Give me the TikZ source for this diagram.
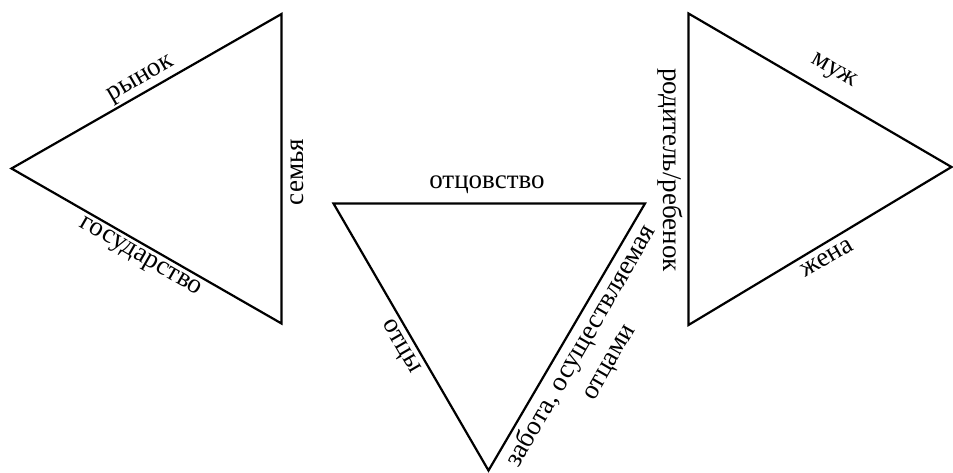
\documentclass[tikz,border=0pt]{standalone}
\usepackage{fontspec}
\newfontfamily\tnr{LiberationSerif-Regular.ttf}
\begin{document}
\begin{tikzpicture}[x=1pt,y=-1pt,
  edge/.style={line width=2.2pt,line join=miter},
  lbl/.style={inner sep=0pt,font=\tnr\fontsize{27}{32}\selectfont,align=center}]
\useasboundingbox (0,0) rectangle (953,473);
% left triangle
\coordinate (a1) at (281.5,14);
\coordinate (a2) at (11.5,168.5);
\coordinate (a3) at (281.5,323.5);
\draw[edge] (a1) -- (a2) -- (a3) -- cycle;
\node[lbl,rotate=30] (rynok) at (141.5,80) {рынок};
\node[lbl,rotate=-30] (gos) at (140,258) {государство};
\node[lbl,rotate=90] (semya) at (297.5,172) {семья};
% middle triangle
\coordinate (b1) at (333.5,203.5);
\coordinate (b2) at (645,203.5);
\coordinate (b3) at (488.5,470.5);
\draw[edge] (b1) -- (b2) -- (b3) -- cycle;
\node[lbl] (otcovstvo) at (487,185) {отцовство};
\node[lbl,rotate=-60] (otcy) at (400,347) {отцы};
\node[lbl,rotate=60] (zabota) at (595,354) {забота, осуществляемая\\отцами};
% right triangle
\coordinate (c1) at (688.5,13.5);
\coordinate (c2) at (688.5,325);
\coordinate (c3) at (951.5,167);
\draw[edge] (c1) -- (c3) -- (c2) -- cycle;
\node[lbl,rotate=-90] (roditel) at (670,170) {родитель/ребенок};
\node[lbl,rotate=-30] (muzh) at (833,72) {муж};
\node[lbl,rotate=30] (zhena) at (827,258) {жена};
\end{tikzpicture}
\end{document}
